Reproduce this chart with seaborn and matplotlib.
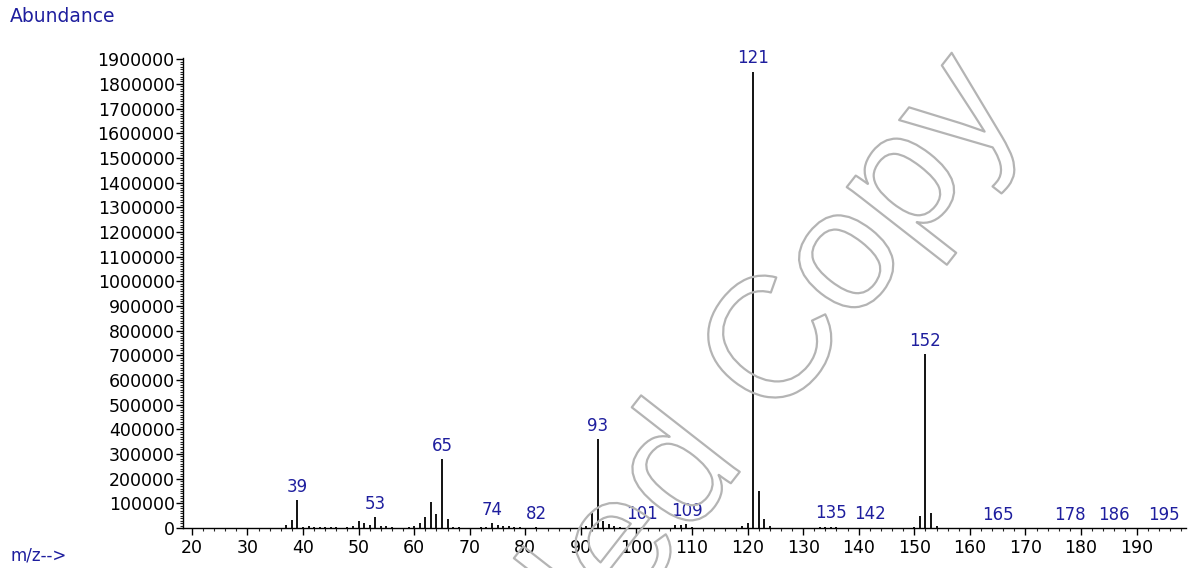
import numpy as np
import matplotlib
matplotlib.use("Agg")
import matplotlib.pyplot as plt
import matplotlib.patheffects as pe
from matplotlib.ticker import MultipleLocator
import seaborn as sns

# mass spectrum: m/z and abundance
mz = [37, 38, 39, 40, 41, 42, 43, 44, 45, 46, 48, 49, 50, 51, 52, 53, 54, 55, 56,
      59, 60, 61, 62, 63, 64, 65, 66, 67, 68,
      72, 73, 74, 75, 76, 77, 78, 79, 82,
      90, 91, 92, 93, 94, 95, 96, 97, 101, 102,
      107, 108, 109, 110, 119, 120, 121, 122, 123, 124,
      133, 134, 135, 136, 142, 150, 151, 152, 153, 154,
      165, 178, 186, 195]
abundance = [14000, 32000, 112000, 6000, 7000, 5000, 6000, 5000, 5000, 6000, 4000, 8000, 27000, 19000, 13000, 45000, 8000, 7000, 4000,
             5000, 8000, 19000, 43000, 107000, 57000, 280000, 38000, 6000, 4000,
             4000, 6000, 19000, 11000, 9000, 9000, 6000, 3000, 3000,
             5000, 8000, 62000, 362000, 30000, 16000, 8000, 4000, 3000, 2000,
             12000, 12000, 16000, 4000, 8000, 19000, 1850000, 151000, 38000, 8000,
             3000, 5000, 6000, 4000, 2000, 4000, 50000, 705000, 62000, 8000,
             1000, 1000, 1000, 1000]
labelled = [39, 53, 65, 74, 82, 93, 101, 109, 121, 135, 142, 152, 165, 178, 186, 195]

blue = "#1e1e9e"

sns.set_theme(style="ticks")
plt.rcParams["font.family"] = ["DejaVu Sans"]

fig = plt.figure(figsize=(11.92, 5.68), dpi=100)
ax = fig.add_axes([183 / 1192, 40 / 568, 1003 / 1192, 470 / 568])

ax.vlines(mz, 0, abundance, color="black", linewidth=1.3)

lookup = dict(zip(mz, abundance))
for m in labelled:
    ax.annotate(str(m), (m, lookup[m]), xytext=(0, 3), textcoords="offset points",
                ha="center", va="bottom", color=blue, fontsize=12)

ax.set_xlim(18.4, 198.9)
ax.set_ylim(0, 1905000)
ax.xaxis.set_major_locator(MultipleLocator(10))
ax.xaxis.set_minor_locator(MultipleLocator(2))
ax.yaxis.set_major_locator(MultipleLocator(100000))
ax.yaxis.set_minor_locator(MultipleLocator(10000))
ax.set_xticks(range(20, 191, 10))
ax.tick_params(axis="both", which="major", labelsize=12.5, colors="black",
               length=5, width=1, pad=1)
ax.tick_params(axis="x", which="major", pad=3)
ax.tick_params(axis="both", which="minor", length=2.5, width=0.8)
ax.yaxis.set_major_formatter(matplotlib.ticker.FuncFormatter(lambda v, p: f"{int(v)}"))
sns.despine(ax=ax)
for s in ["left", "bottom"]:
    ax.spines[s].set_color("black")
    ax.spines[s].set_linewidth(1)

fig.text(10 / 1192, 1 - 17 / 568, "Abundance", color=blue, fontsize=13.5, va="center")
fig.text(10 / 1192, 1 - 556 / 568, "m/z-->", color=blue, fontsize=12, va="center")

# watermark
fig.text(1024 / 1192, 1 - 108 / 568, "Uncontrolled Copy", rotation=52,
         rotation_mode="anchor", ha="right", va="baseline", fontsize=124,
         family="Liberation Sans", color="none",
         path_effects=[pe.Stroke(linewidth=1.6, foreground="#b4b4b4")])

fig.savefig("out.png", dpi=100)
